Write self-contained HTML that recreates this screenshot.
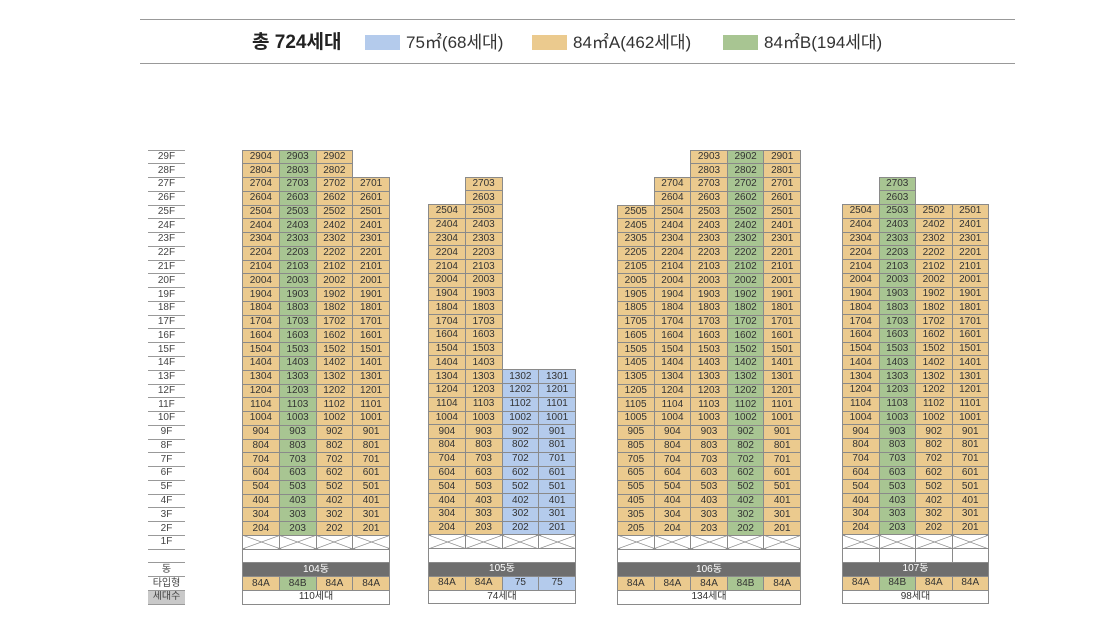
<!DOCTYPE html>
<html><head><meta charset="utf-8">
<style>
html,body{margin:0;padding:0;background:#fff;width:1118px;height:640px;overflow:hidden;position:relative;font-family:"Liberation Sans","Noto Sans CJK KR",sans-serif;}
.hl{position:absolute;left:140px;width:875px;height:1px;background:#999;}
.hd{position:absolute;top:31px;font-size:17px;color:#333;line-height:24px;}
.sw{position:absolute;top:35px;width:35px;height:15px;}
table{position:absolute;top:149.5px;border-collapse:collapse;table-layout:fixed;}
td{padding:0;border:1px solid #8a8a8a;background:#ebca8e;font-size:10px;color:#333;text-align:center;line-height:12px;overflow:hidden;white-space:nowrap;}
tr{height:13.78px;}
td.g{background:#a8c592;}
td.b{background:#b4cbec;}
td.e{border:none;background:transparent;}
td.x{background:linear-gradient(to top right,transparent calc(50% - 0.6px),#777 50%,transparent calc(50% + 0.6px)),linear-gradient(to bottom right,transparent calc(50% - 0.6px),#777 50%,transparent calc(50% + 0.6px)),#fff;}
td.w{background:#fff;}
td.d{background:#6e6e6e;color:#fff;}
.lab td{border:none;border-bottom:1px solid #999;background:#fff;color:#444;}
.lab tr:first-child td{border-top:1px solid #999;}
td.s{background:#c9c9c9;}
</style></head><body>
<div class="hl" style="top:19px"></div>
<div class="hl" style="top:63px"></div>
<div class="hd" style="left:252px;font-weight:bold;font-size:19px;color:#222;">총 724세대</div>
<div class="sw" style="left:365px;background:#b4cbec"></div>
<div class="hd" style="left:406px">75㎡(68세대)</div>
<div class="sw" style="left:532px;background:#ebca8e"></div>
<div class="hd" style="left:573px">84㎡A(462세대)</div>
<div class="sw" style="left:723px;background:#a8c592"></div>
<div class="hd" style="left:764px">84㎡B(194세대)</div>

<table class="lab" style="left:148px;width:37px">
<tr><td>29F</td></tr><tr><td>28F</td></tr><tr><td>27F</td></tr><tr><td>26F</td></tr><tr><td>25F</td></tr><tr><td>24F</td></tr><tr><td>23F</td></tr><tr><td>22F</td></tr><tr><td>21F</td></tr><tr><td>20F</td></tr><tr><td>19F</td></tr><tr><td>18F</td></tr><tr><td>17F</td></tr><tr><td>16F</td></tr><tr><td>15F</td></tr><tr><td>14F</td></tr><tr><td>13F</td></tr><tr><td>12F</td></tr><tr><td>11F</td></tr><tr><td>10F</td></tr><tr><td>9F</td></tr><tr><td>8F</td></tr><tr><td>7F</td></tr><tr><td>6F</td></tr><tr><td>5F</td></tr><tr><td>4F</td></tr><tr><td>3F</td></tr><tr><td>2F</td></tr><tr><td>1F</td></tr><tr><td></td></tr><tr><td>동</td></tr><tr><td>타입형</td></tr><tr><td class="s">세대수</td></tr>
</table>

<table style="left:242px;width:148px">
<tr><td>2904</td><td class="g">2903</td><td>2902</td><td class="e"></td></tr>
<tr><td>2804</td><td class="g">2803</td><td>2802</td><td class="e"></td></tr>
<tr><td>2704</td><td class="g">2703</td><td>2702</td><td>2701</td></tr>
<tr><td>2604</td><td class="g">2603</td><td>2602</td><td>2601</td></tr>
<tr><td>2504</td><td class="g">2503</td><td>2502</td><td>2501</td></tr>
<tr><td>2404</td><td class="g">2403</td><td>2402</td><td>2401</td></tr>
<tr><td>2304</td><td class="g">2303</td><td>2302</td><td>2301</td></tr>
<tr><td>2204</td><td class="g">2203</td><td>2202</td><td>2201</td></tr>
<tr><td>2104</td><td class="g">2103</td><td>2102</td><td>2101</td></tr>
<tr><td>2004</td><td class="g">2003</td><td>2002</td><td>2001</td></tr>
<tr><td>1904</td><td class="g">1903</td><td>1902</td><td>1901</td></tr>
<tr><td>1804</td><td class="g">1803</td><td>1802</td><td>1801</td></tr>
<tr><td>1704</td><td class="g">1703</td><td>1702</td><td>1701</td></tr>
<tr><td>1604</td><td class="g">1603</td><td>1602</td><td>1601</td></tr>
<tr><td>1504</td><td class="g">1503</td><td>1502</td><td>1501</td></tr>
<tr><td>1404</td><td class="g">1403</td><td>1402</td><td>1401</td></tr>
<tr><td>1304</td><td class="g">1303</td><td>1302</td><td>1301</td></tr>
<tr><td>1204</td><td class="g">1203</td><td>1202</td><td>1201</td></tr>
<tr><td>1104</td><td class="g">1103</td><td>1102</td><td>1101</td></tr>
<tr><td>1004</td><td class="g">1003</td><td>1002</td><td>1001</td></tr>
<tr><td>904</td><td class="g">903</td><td>902</td><td>901</td></tr>
<tr><td>804</td><td class="g">803</td><td>802</td><td>801</td></tr>
<tr><td>704</td><td class="g">703</td><td>702</td><td>701</td></tr>
<tr><td>604</td><td class="g">603</td><td>602</td><td>601</td></tr>
<tr><td>504</td><td class="g">503</td><td>502</td><td>501</td></tr>
<tr><td>404</td><td class="g">403</td><td>402</td><td>401</td></tr>
<tr><td>304</td><td class="g">303</td><td>302</td><td>301</td></tr>
<tr><td>204</td><td class="g">203</td><td>202</td><td>201</td></tr>
<tr><td class="x"></td><td class="x"></td><td class="x"></td><td class="x"></td></tr>
<tr><td class="w" colspan="4"></td></tr>
<tr><td class="d" colspan="4">104동</td></tr>
<tr><td>84A</td><td class="g">84B</td><td>84A</td><td>84A</td></tr>
<tr><td class="w" colspan="4">110세대</td></tr>
</table>

<table style="left:428px;width:148px">
<tr><td class="e"></td><td class="e"></td><td class="e"></td><td class="e"></td></tr>
<tr><td class="e"></td><td class="e"></td><td class="e"></td><td class="e"></td></tr>
<tr><td class="e"></td><td>2703</td><td class="e"></td><td class="e"></td></tr>
<tr><td class="e"></td><td>2603</td><td class="e"></td><td class="e"></td></tr>
<tr><td>2504</td><td>2503</td><td class="e"></td><td class="e"></td></tr>
<tr><td>2404</td><td>2403</td><td class="e"></td><td class="e"></td></tr>
<tr><td>2304</td><td>2303</td><td class="e"></td><td class="e"></td></tr>
<tr><td>2204</td><td>2203</td><td class="e"></td><td class="e"></td></tr>
<tr><td>2104</td><td>2103</td><td class="e"></td><td class="e"></td></tr>
<tr><td>2004</td><td>2003</td><td class="e"></td><td class="e"></td></tr>
<tr><td>1904</td><td>1903</td><td class="e"></td><td class="e"></td></tr>
<tr><td>1804</td><td>1803</td><td class="e"></td><td class="e"></td></tr>
<tr><td>1704</td><td>1703</td><td class="e"></td><td class="e"></td></tr>
<tr><td>1604</td><td>1603</td><td class="e"></td><td class="e"></td></tr>
<tr><td>1504</td><td>1503</td><td class="e"></td><td class="e"></td></tr>
<tr><td>1404</td><td>1403</td><td class="e"></td><td class="e"></td></tr>
<tr><td>1304</td><td>1303</td><td class="b">1302</td><td class="b">1301</td></tr>
<tr><td>1204</td><td>1203</td><td class="b">1202</td><td class="b">1201</td></tr>
<tr><td>1104</td><td>1103</td><td class="b">1102</td><td class="b">1101</td></tr>
<tr><td>1004</td><td>1003</td><td class="b">1002</td><td class="b">1001</td></tr>
<tr><td>904</td><td>903</td><td class="b">902</td><td class="b">901</td></tr>
<tr><td>804</td><td>803</td><td class="b">802</td><td class="b">801</td></tr>
<tr><td>704</td><td>703</td><td class="b">702</td><td class="b">701</td></tr>
<tr><td>604</td><td>603</td><td class="b">602</td><td class="b">601</td></tr>
<tr><td>504</td><td>503</td><td class="b">502</td><td class="b">501</td></tr>
<tr><td>404</td><td>403</td><td class="b">402</td><td class="b">401</td></tr>
<tr><td>304</td><td>303</td><td class="b">302</td><td class="b">301</td></tr>
<tr><td>204</td><td>203</td><td class="b">202</td><td class="b">201</td></tr>
<tr><td class="x"></td><td class="x"></td><td class="x"></td><td class="x"></td></tr>
<tr><td class="w" colspan="4"></td></tr>
<tr><td class="d" colspan="4">105동</td></tr>
<tr><td>84A</td><td>84A</td><td class="b">75</td><td class="b">75</td></tr>
<tr><td class="w" colspan="4">74세대</td></tr>
</table>

<table style="left:617px;width:184px">
<tr><td class="e"></td><td class="e"></td><td>2903</td><td class="g">2902</td><td>2901</td></tr>
<tr><td class="e"></td><td class="e"></td><td>2803</td><td class="g">2802</td><td>2801</td></tr>
<tr><td class="e"></td><td>2704</td><td>2703</td><td class="g">2702</td><td>2701</td></tr>
<tr><td class="e"></td><td>2604</td><td>2603</td><td class="g">2602</td><td>2601</td></tr>
<tr><td>2505</td><td>2504</td><td>2503</td><td class="g">2502</td><td>2501</td></tr>
<tr><td>2405</td><td>2404</td><td>2403</td><td class="g">2402</td><td>2401</td></tr>
<tr><td>2305</td><td>2304</td><td>2303</td><td class="g">2302</td><td>2301</td></tr>
<tr><td>2205</td><td>2204</td><td>2203</td><td class="g">2202</td><td>2201</td></tr>
<tr><td>2105</td><td>2104</td><td>2103</td><td class="g">2102</td><td>2101</td></tr>
<tr><td>2005</td><td>2004</td><td>2003</td><td class="g">2002</td><td>2001</td></tr>
<tr><td>1905</td><td>1904</td><td>1903</td><td class="g">1902</td><td>1901</td></tr>
<tr><td>1805</td><td>1804</td><td>1803</td><td class="g">1802</td><td>1801</td></tr>
<tr><td>1705</td><td>1704</td><td>1703</td><td class="g">1702</td><td>1701</td></tr>
<tr><td>1605</td><td>1604</td><td>1603</td><td class="g">1602</td><td>1601</td></tr>
<tr><td>1505</td><td>1504</td><td>1503</td><td class="g">1502</td><td>1501</td></tr>
<tr><td>1405</td><td>1404</td><td>1403</td><td class="g">1402</td><td>1401</td></tr>
<tr><td>1305</td><td>1304</td><td>1303</td><td class="g">1302</td><td>1301</td></tr>
<tr><td>1205</td><td>1204</td><td>1203</td><td class="g">1202</td><td>1201</td></tr>
<tr><td>1105</td><td>1104</td><td>1103</td><td class="g">1102</td><td>1101</td></tr>
<tr><td>1005</td><td>1004</td><td>1003</td><td class="g">1002</td><td>1001</td></tr>
<tr><td>905</td><td>904</td><td>903</td><td class="g">902</td><td>901</td></tr>
<tr><td>805</td><td>804</td><td>803</td><td class="g">802</td><td>801</td></tr>
<tr><td>705</td><td>704</td><td>703</td><td class="g">702</td><td>701</td></tr>
<tr><td>605</td><td>604</td><td>603</td><td class="g">602</td><td>601</td></tr>
<tr><td>505</td><td>504</td><td>503</td><td class="g">502</td><td>501</td></tr>
<tr><td>405</td><td>404</td><td>403</td><td class="g">402</td><td>401</td></tr>
<tr><td>305</td><td>304</td><td>303</td><td class="g">302</td><td>301</td></tr>
<tr><td>205</td><td>204</td><td>203</td><td class="g">202</td><td>201</td></tr>
<tr><td class="x"></td><td class="x"></td><td class="x"></td><td class="x"></td><td class="x"></td></tr>
<tr><td class="w" colspan="5"></td></tr>
<tr><td class="d" colspan="5">106동</td></tr>
<tr><td>84A</td><td>84A</td><td>84A</td><td class="g">84B</td><td>84A</td></tr>
<tr><td class="w" colspan="5">134세대</td></tr>
</table>

<table style="left:842px;width:147px">
<tr><td class="e"></td><td class="e"></td><td class="e"></td><td class="e"></td></tr>
<tr><td class="e"></td><td class="e"></td><td class="e"></td><td class="e"></td></tr>
<tr><td class="e"></td><td class="g">2703</td><td class="e"></td><td class="e"></td></tr>
<tr><td class="e"></td><td class="g">2603</td><td class="e"></td><td class="e"></td></tr>
<tr><td>2504</td><td class="g">2503</td><td>2502</td><td>2501</td></tr>
<tr><td>2404</td><td class="g">2403</td><td>2402</td><td>2401</td></tr>
<tr><td>2304</td><td class="g">2303</td><td>2302</td><td>2301</td></tr>
<tr><td>2204</td><td class="g">2203</td><td>2202</td><td>2201</td></tr>
<tr><td>2104</td><td class="g">2103</td><td>2102</td><td>2101</td></tr>
<tr><td>2004</td><td class="g">2003</td><td>2002</td><td>2001</td></tr>
<tr><td>1904</td><td class="g">1903</td><td>1902</td><td>1901</td></tr>
<tr><td>1804</td><td class="g">1803</td><td>1802</td><td>1801</td></tr>
<tr><td>1704</td><td class="g">1703</td><td>1702</td><td>1701</td></tr>
<tr><td>1604</td><td class="g">1603</td><td>1602</td><td>1601</td></tr>
<tr><td>1504</td><td class="g">1503</td><td>1502</td><td>1501</td></tr>
<tr><td>1404</td><td class="g">1403</td><td>1402</td><td>1401</td></tr>
<tr><td>1304</td><td class="g">1303</td><td>1302</td><td>1301</td></tr>
<tr><td>1204</td><td class="g">1203</td><td>1202</td><td>1201</td></tr>
<tr><td>1104</td><td class="g">1103</td><td>1102</td><td>1101</td></tr>
<tr><td>1004</td><td class="g">1003</td><td>1002</td><td>1001</td></tr>
<tr><td>904</td><td class="g">903</td><td>902</td><td>901</td></tr>
<tr><td>804</td><td class="g">803</td><td>802</td><td>801</td></tr>
<tr><td>704</td><td class="g">703</td><td>702</td><td>701</td></tr>
<tr><td>604</td><td class="g">603</td><td>602</td><td>601</td></tr>
<tr><td>504</td><td class="g">503</td><td>502</td><td>501</td></tr>
<tr><td>404</td><td class="g">403</td><td>402</td><td>401</td></tr>
<tr><td>304</td><td class="g">303</td><td>302</td><td>301</td></tr>
<tr><td>204</td><td class="g">203</td><td>202</td><td>201</td></tr>
<tr><td class="x"></td><td class="x"></td><td class="x"></td><td class="x"></td></tr>
<tr><td class="w"></td><td class="w"></td><td class="w"></td><td class="w"></td></tr>
<tr><td class="d" colspan="4">107동</td></tr>
<tr><td>84A</td><td class="g">84B</td><td>84A</td><td>84A</td></tr>
<tr><td class="w" colspan="4">98세대</td></tr>
</table>
</body></html>
